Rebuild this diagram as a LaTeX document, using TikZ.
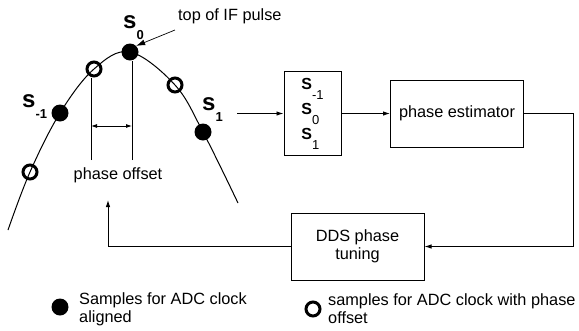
\documentclass[tikz,border=0pt]{standalone}
\usepackage{fontspec}
\setmainfont{Liberation Sans}
\usetikzlibrary{arrows.meta,
positioning,
calc}

\newcommand{\slabel}[1]{{\fontsize{24}{24}\selectfont\bfseries s}\raisebox{-11pt}{\fontsize{13}{13}\selectfont\bfseries #1}}
\newcommand{\boxS}[1]{{\bfseries S}\raisebox{-10pt}{\fontsize{13}{13}\selectfont #1}}

\begin{document}
\begin{tikzpicture}[
				x=1pt, y=-1pt,
				font=\fontsize{16.3}{18}\selectfont,
				block/.style={
					draw,
					minimum width=133pt,
					minimum height=67pt,
					align=center,
					line width=1pt
				},
				aligned/.style={circle, fill=black, minimum size=17pt, inner sep=0pt},
				shifted/.style={circle, draw=black, line width=3pt, minimum size=14pt, inner sep=0pt},
				flow/.style={-{Latex[length=7pt,width=4.5pt]}, line width=0.9pt},
				measure/.style={line width=0.5pt},
				plain/.style={inner sep=0pt}
				]
				\useasboundingbox (0,0) rectangle (579,330);
				
				% pulse and its samples
				\draw[line width=1pt] plot[smooth, tension=0.6] coordinates {(8,230) (30,172) (60,113) (94,69) (130,52) (175,85) (203,132) (238,203)};
				\node[shifted] (o1) at (30,172) {};
				\node[aligned] (sm1) at (60,113) {};
				\node[shifted] (o2) at (94,69) {};
				\node[aligned] (s0) at (130,52) {};
				\node[shifted] (o3) at (175,85) {};
				\node[aligned] (s1) at (203,132) {};
				
				\node[plain, anchor=base west] (lsm1) at (22,107) {\slabel{-1}};
				\node[plain, anchor=base west] (ls0) at (123,28) {\slabel{0}};
				\node[plain, anchor=base west] (ls1) at (202,110) {\slabel{1}};
				
				\node[plain, anchor=west] (top) at (178,16) {top of IF pulse};
				\coordinate (topfrom) at (175,30);
				\draw[-{Latex[length=9pt,width=6pt]}, line width=0.7pt] (topfrom) -- (s0.north east);
				
				% phase offset
				\coordinate (mL) at (91,160);
				\coordinate (mR) at (132,160);
				\coordinate (aL) at (91,126);
				\coordinate (aR) at (132,126);
				\draw[measure] (mL) -- (mL |- o2.south);
				\draw[measure] (mR) -- (mR |- s0.south);
				\draw[{Latex[length=6pt,width=4pt]}-{Latex[length=6pt,width=4pt]}, line width=0.8pt] (aL) -- (aR);
				\node (offset) at (118,175) {phase offset};
				
				% processing chain
				\node[draw, line width=1pt, minimum width=57pt, minimum height=84pt, align=left, inner sep=2pt,
					font=\fontsize{16}{25}\selectfont] (samples) at (312.5,113.5) {\boxS{-1}\\\boxS{0}\\\boxS{1}};
				\node[block] (estimator) at (457,113.5) {phase estimator};
				\node[block] (dds) at (357.5,246.5) {DDS phase\\tuning};
				
				\coordinate (feed) at (237,113.5);
				\coordinate (back) at (108,200);
				\draw[flow] (feed) -- (samples.west);
				\draw[flow] (samples.east) -- (estimator.west);
				\draw[flow] (estimator.east) -- ++(49,0) |- (dds.east);
				\draw[flow] (dds.west) -| (back);
				
				% legend
				\node[aligned] (keyaligned) at (60,307) {};
				\node[plain, anchor=west, align=left] (textaligned) at (79,309) {Samples for ADC clock\\aligned};
				\node[shifted] (keyshifted) at (313,309) {};
				\node[plain, anchor=west, align=left] (textshifted) at (328,309) {samples for ADC clock with phase\\offset};
			\end{tikzpicture}
\end{document}
